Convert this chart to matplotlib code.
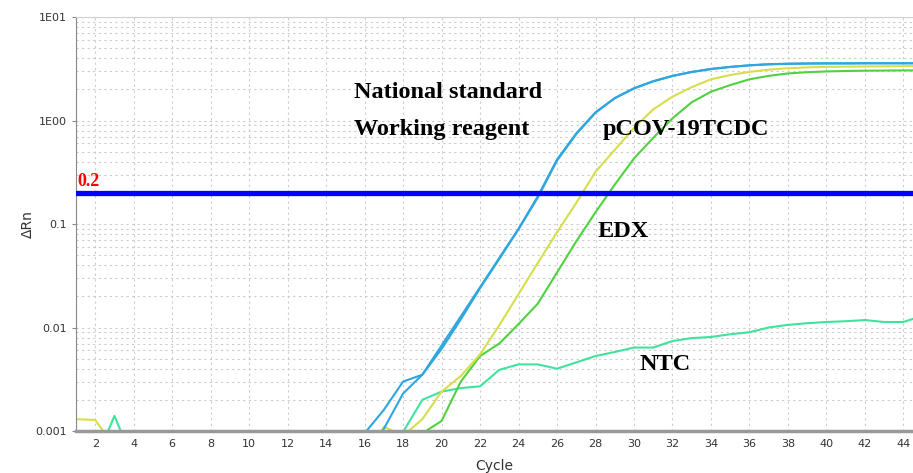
import numpy as np
import matplotlib
matplotlib.use('Agg')
import matplotlib.pyplot as plt
from matplotlib.ticker import FixedLocator, NullFormatter, LogLocator

# cycle numbers 1..45
cycles = np.arange(1, 46)

# values (below 0.001 is off-scale, kept small)
LOW = 0.0005
natl_std_a = [LOW]*15 + [0.00095, 0.0016, 0.003, 0.0035, 0.0067, 0.0128, 0.0245, 0.047,
                         0.09, 0.185, 0.42, 0.75, 1.2, 1.65, 2.05, 2.4, 2.7, 2.95, 3.15,
                         3.3, 3.42, 3.5, 3.54, 3.56, 3.57, 3.57, 3.58, 3.58, 3.58, 3.58]
natl_std_b = [LOW]*16 + [0.00105, 0.0023, 0.0035, 0.0062, 0.012, 0.024, 0.046,
                         0.089, 0.18, 0.41, 0.74, 1.19, 1.64, 2.04, 2.39, 2.69, 2.94, 3.14,
                         3.29, 3.41, 3.49, 3.53, 3.55, 3.56, 3.56, 3.57, 3.57, 3.57, 3.57]
pcov = [0.0013, 0.00128, 0.0007] + [LOW]*13 + [0.0011, 0.0009, 0.0013, 0.0024, 0.0034,
        0.0055, 0.0105, 0.021, 0.042, 0.083, 0.16, 0.32, 0.52, 0.85, 1.28, 1.7, 2.1,
        2.5, 2.75, 2.95, 3.1, 3.2, 3.26, 3.3, 3.32, 3.33, 3.34, 3.35, 3.35]
edx = [LOW]*18 + [0.00095, 0.00125, 0.003, 0.0053, 0.007, 0.0108, 0.017, 0.034, 0.068,
                  0.13, 0.24, 0.43, 0.68, 1.05, 1.5, 1.9, 2.2, 2.5, 2.7, 2.85, 2.93,
                  2.98, 3.01, 3.03, 3.04, 3.05, 3.05]
ntc = [LOW, LOW, 0.0014] + [LOW]*14 + [0.00098, 0.002, 0.0024, 0.0026, 0.0027, 0.0039,
       0.0044, 0.0044, 0.0040, 0.0046, 0.0053, 0.0058, 0.0064, 0.0064, 0.0074, 0.0079,
       0.0081, 0.0086, 0.0090, 0.010, 0.0106, 0.011, 0.0113, 0.0115, 0.0118, 0.0113,
       0.0113, 0.013]

threshold = 0.2
ytick_vals = [0.001, 0.01, 0.1, 1, 10]
ytick_labels = ['0.001', '0.01', '0.1', '1E00', '1E01']
xtick_vals = list(range(2, 45, 2))

fig = plt.figure(figsize=(9.13, 4.73), dpi=100)
ax = fig.add_axes([0.0832, 0.0888, 0.9168, 0.8752])

ax.set_yscale('log')
ax.set_ylim(0.001, 10)
ax.set_xlim(1, 44.5)

ax.plot(cycles, ntc, color='#3fe39c', lw=1.5)
ax.plot(cycles, edx, color='#4fd23f', lw=1.5)
ax.plot(cycles, pcov, color='#d6de4a', lw=1.5)
ax.plot(cycles, natl_std_b, color='#2ea6df', lw=1.5)
ax.plot(cycles, natl_std_a, color='#2ea6df', lw=1.5)

ax.axhline(threshold, color='#0000ff', lw=3.8, zorder=5)

# ticks and grid
ax.yaxis.set_major_locator(FixedLocator(ytick_vals))
ax.set_yticklabels(ytick_labels)
ax.yaxis.set_minor_locator(LogLocator(base=10, subs=np.arange(2, 10)))
ax.yaxis.set_minor_formatter(NullFormatter())
ax.set_xticks(xtick_vals)
ax.grid(which='major', axis='x', color='#cccccc', linestyle=(0, (2, 3)), lw=0.8)
ax.grid(which='both', axis='y', color='#cccccc', linestyle=(0, (2, 3)), lw=0.8)
ax.tick_params(axis='both', which='major', labelsize=8, labelcolor='#333333',
               color='#888888', length=3)
ax.tick_params(axis='x', which='major', length=0, pad=6)
ax.tick_params(axis='y', which='minor', length=0)

ax.spines['right'].set_visible(False)
ax.spines['top'].set_color('#d0d0d0')
ax.spines['left'].set_color('#888888')
ax.spines['bottom'].set_color('#999999')
ax.spines['bottom'].set_linewidth(2.5)

ax.set_xlabel('Cycle', fontsize=10, color='#333333', labelpad=7)
ax.set_ylabel('\u0394Rn', fontsize=10, color='#333333', labelpad=0)

# annotations
serif = dict(family='Liberation Serif', fontweight='bold', fontsize=17.5, color='black')
ax.text(15.43, 1.85, 'National standard', va='center', **serif)
ax.text(15.43, 0.81, 'Working reagent', va='center', **serif)
ax.text(28.37, 0.81, 'pCOV-19TCDC', va='center', **serif)
ax.text(28.1, 0.084, 'EDX', va='center', **serif)
ax.text(30.3, 0.00435, 'NTC', va='center', **serif)
ax.text(1.05, 0.215, '0.2', color='red', family='Liberation Serif',
        fontweight='bold', fontsize=13, va='bottom', zorder=6)

fig.savefig('out.png', dpi=100)
